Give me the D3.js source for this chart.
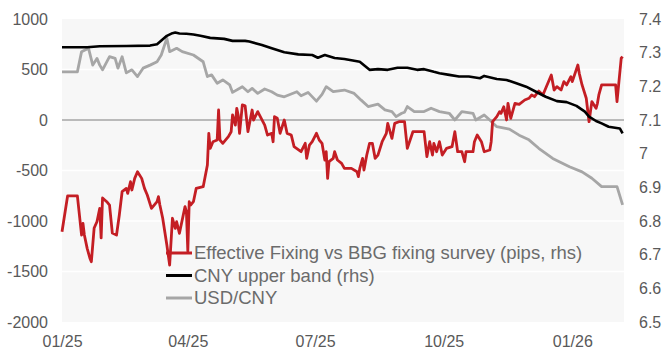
<!DOCTYPE html>
<html>
<head>
<meta charset="utf-8">
<script src="https://cdn.jsdelivr.net/npm/d3@7"></script>
<style>
  html, body { margin: 0; padding: 0; background: #fff; }
  svg { display: block; font-family: "Liberation Sans", Arial, sans-serif; }
</style>
</head>
<body>
<svg id="chart" width="664" height="349"></svg>
<script>
// ---- Data ----------------------------------------------------------------
// Effective fixing vs Bloomberg fixing survey, pips (left scale)
const fixingDates = [
  "2025-01-01","2025-01-05","2025-01-12","2025-01-15","2025-01-16","2025-01-17","2025-01-19","2025-01-21","2025-01-22","2025-01-24",
  "2025-01-26","2025-01-28","2025-01-29","2025-01-30","2025-02-02","2025-02-04","2025-02-06","2025-02-09","2025-02-11","2025-02-13",
  "2025-02-16","2025-02-17","2025-02-19","2025-02-20","2025-02-22","2025-02-24","2025-02-27","2025-03-01","2025-03-03","2025-03-06",
  "2025-03-10","2025-03-11","2025-03-12","2025-03-14","2025-03-17","2025-03-19","2025-03-21","2025-03-23","2025-03-24","2025-03-26",
  "2025-03-30","2025-03-31","2025-04-01","2025-04-02","2025-04-03","2025-04-05","2025-04-07","2025-04-12","2025-04-15","2025-04-16",
  "2025-04-17","2025-04-19","2025-04-22","2025-04-23","2025-04-24","2025-04-26","2025-04-30","2025-05-02","2025-05-03","2025-05-05",
  "2025-05-06","2025-05-07","2025-05-08","2025-05-10","2025-05-12","2025-05-14","2025-05-17","2025-05-18","2025-05-21","2025-05-26",
  "2025-05-28","2025-05-31","2025-06-01","2025-06-02","2025-06-04","2025-06-06","2025-06-09","2025-06-11","2025-06-14","2025-06-16",
  "2025-06-21","2025-06-24","2025-06-25","2025-06-27","2025-06-29","2025-07-02","2025-07-04","2025-07-06","2025-07-08","2025-07-09",
  "2025-07-10","2025-07-11","2025-07-14","2025-07-15","2025-07-17","2025-07-20","2025-07-22","2025-07-27","2025-07-31","2025-08-01",
  "2025-08-02","2025-08-04","2025-08-05","2025-08-07","2025-08-09","2025-08-11","2025-08-13","2025-08-15","2025-08-18","2025-08-21",
  "2025-08-22","2025-08-25","2025-08-27","2025-08-30","2025-09-03","2025-09-05","2025-09-09","2025-09-17","2025-09-19","2025-09-21",
  "2025-09-23","2025-09-24","2025-09-26","2025-09-28","2025-09-30","2025-10-03","2025-10-07","2025-10-09","2025-10-11","2025-10-14",
  "2025-10-16","2025-10-17","2025-10-22","2025-10-23","2025-10-25","2025-10-28","2025-10-30","2025-11-03","2025-11-04","2025-11-05",
  "2025-11-08","2025-11-10","2025-11-11","2025-11-13","2025-11-15","2025-11-16","2025-11-18","2025-11-21","2025-11-24","2025-11-28",
  "2025-12-01","2025-12-03","2025-12-05","2025-12-08","2025-12-11","2025-12-13","2025-12-17","2025-12-19","2025-12-21","2025-12-24",
  "2025-12-26","2025-12-28","2025-12-31","2026-01-01","2026-01-05","2026-01-06","2026-01-08","2026-01-11","2026-01-13","2026-01-15",
  "2026-01-18","2026-01-19","2026-01-20","2026-01-22","2026-02-01","2026-02-02","2026-02-05","2026-02-06"
];
const fixingPips = [
  -1106, -752, -752,-1139,-1023,-1139,-1271,-1370,-1403,-1069,
  -1007, -875,-1168, -772, -809, -842,-1119,-1139, -941, -710,
   -677, -726, -611, -693, -578, -512, -578, -677, -743, -875,
   -809, -759, -842, -970,-1238,-1436, -973,-1073,-1007,-1122,
   -858, -908,-1300, -809, -842, -809, -677, -660, -446, -132,
   -281, -215, -198,   99, -198, -231, -165, -116,   50,  -50,
    116,   50, -132,  149,  140, -116,   99,    0,   83,  -50,
   -149, -132, -215,   33,   17, -132,    0, -132, -149, -264,
   -314, -231, -380, -248, -215, -132, -198, -231, -396, -314,
   -578, -413, -380, -314, -396, -429, -479, -479, -512, -561,
   -479, -380, -495, -347, -231, -231, -380, -347, -215, -132,
    -33, -182,  -33,  -17,  -17, -281, -116, -116, -363, -215,
   -347, -231, -314, -215, -347, -281, -264, -116, -314, -314,
   -413, -314, -314, -215, -149, -215, -314, -297, -215,  -17,
     33,   83,   66,  132,    0,  165,   17,  165,  155,  198,
    215,  248,  231,  287,  248,  314,  446,  297,  330,  297,
    380,  347,  429,  380,  545,  462,  347,  215,  -17,  182,
    116,  165,  248,  347,  347,  182,  611,  627
];

// CNY upper band (right scale)
const bandDates = [
  "2025-01-01","2025-01-19","2025-01-28","2025-02-16","2025-03-05","2025-03-10","2025-03-17","2025-03-21","2025-03-23","2025-03-26",
  "2025-03-31","2025-04-05","2025-04-10","2025-04-17","2025-04-27","2025-05-03","2025-05-12","2025-05-15","2025-05-24","2025-05-31",
  "2025-06-09","2025-06-19","2025-06-29","2025-07-03","2025-07-08","2025-07-15","2025-07-22","2025-08-02","2025-08-09","2025-08-15",
  "2025-08-22","2025-08-29","2025-09-05","2025-09-12","2025-09-17","2025-09-24","2025-09-28","2025-10-05","2025-10-12","2025-10-19",
  "2025-10-27","2025-10-30","2025-11-08","2025-11-15","2025-11-22","2025-11-29","2025-12-06","2025-12-13","2025-12-21","2025-12-28",
  "2026-01-04","2026-01-10","2026-01-13","2026-01-18","2026-01-22","2026-01-27","2026-02-04","2026-02-06"
];
const bandValues = [
  7.316, 7.316, 7.319, 7.320, 7.321, 7.325, 7.350, 7.358, 7.360, 7.357,
  7.356, 7.354, 7.350, 7.344, 7.341, 7.335, 7.335, 7.333, 7.323, 7.313,
  7.301, 7.295, 7.293, 7.285, 7.293, 7.284, 7.281, 7.273, 7.249, 7.251,
  7.249, 7.255, 7.255, 7.249, 7.251, 7.243, 7.239, 7.234, 7.229, 7.229,
  7.224, 7.231, 7.222, 7.219, 7.209, 7.199, 7.184, 7.169, 7.156, 7.153,
  7.142, 7.125, 7.110, 7.097, 7.090, 7.080, 7.075, 7.060
];

// USD/CNY spot (right scale)
const spotDates = [
  "2025-01-01","2025-01-12","2025-01-15","2025-01-20","2025-01-23","2025-01-26","2025-01-28","2025-01-30","2025-02-04","2025-02-08",
  "2025-02-10","2025-02-13","2025-02-16","2025-02-20","2025-02-24","2025-02-28","2025-03-05","2025-03-10","2025-03-13","2025-03-17",
  "2025-03-19","2025-03-24","2025-03-28","2025-04-05","2025-04-12","2025-04-15","2025-04-18","2025-04-22","2025-04-26","2025-05-01",
  "2025-05-03","2025-05-10","2025-05-14","2025-05-17","2025-05-21","2025-05-26","2025-05-31","2025-06-04","2025-06-09","2025-06-18",
  "2025-06-21","2025-06-26","2025-07-02","2025-07-06","2025-07-09","2025-07-14","2025-07-22","2025-07-29","2025-08-03","2025-08-08",
  "2025-08-15","2025-08-20","2025-08-25","2025-08-28","2025-09-01","2025-09-03","2025-09-05","2025-09-10","2025-09-17","2025-09-22",
  "2025-09-28","2025-10-05","2025-10-09","2025-10-14","2025-10-22","2025-10-24","2025-10-30","2025-11-03","2025-11-08","2025-11-17",
  "2025-11-24","2025-12-01","2025-12-08","2025-12-18","2025-12-30","2026-01-08","2026-01-15","2026-01-22","2026-02-02","2026-02-06"
];
const spotValues = [
  7.243, 7.243, 7.303, 7.313, 7.263, 7.283, 7.263, 7.249, 7.288, 7.283,
  7.254, 7.288, 7.240, 7.249, 7.229, 7.254, 7.263, 7.273, 7.293, 7.343,
  7.303, 7.313, 7.303, 7.293, 7.273, 7.229, 7.234, 7.209, 7.219, 7.204,
  7.182, 7.199, 7.184, 7.194, 7.179, 7.192, 7.184, 7.174, 7.169, 7.184,
  7.172, 7.182, 7.156, 7.176, 7.199, 7.184, 7.189, 7.179, 7.159, 7.140,
  7.147, 7.130, 7.125, 7.110, 7.120, 7.123, 7.140, 7.125, 7.125, 7.135,
  7.125, 7.120, 7.100, 7.125, 7.120, 7.100, 7.115, 7.100, 7.080, 7.073,
  7.055, 7.041, 7.016, 6.986, 6.961, 6.946, 6.927, 6.902, 6.902, 6.848
];

const leftTicks  = [1000, 500, 0, -500, -1000, -1500, -2000];
const rightTicks = [7.4, 7.3, 7.2, 7.1, 7.0, 6.9, 6.8, 6.7, 6.6, 6.5];
const xTickDates = ["2025-01-01", "2025-04-01", "2025-07-01", "2025-10-01", "2026-01-01"];
const xDomain    = ["2025-01-01", "2026-02-07"];

const seriesNames  = ["Effective Fixing vs BBG fixing survey (pips, rhs)", "CNY upper band (rhs)", "USD/CNY"];
const seriesColors = ["#c41e24", "#000000", "#a6a6a6"];

// ---- Layout ----------------------------------------------------------------
const W = 664, H = 349;
const margin = { top: 19, right: 40, bottom: 27, left: 62 };
const plotW = W - margin.left - margin.right;
const plotH = H - margin.top - margin.bottom;

const parse = d3.timeParse("%Y-%m-%d");
const zipSeries = (dates, vals) => d3.zip(dates, vals).map(([d, v]) => ({ date: parse(d), value: v }));

const fixing = zipSeries(fixingDates, fixingPips);
const band   = zipSeries(bandDates, bandValues);
const spot   = zipSeries(spotDates, spotValues);

const x = d3.scaleTime().domain(xDomain.map(parse)).range([0, plotW]);
const yL = d3.scaleLinear().domain([-2000, 1000]).range([plotH, 0]);
const yR = d3.scaleLinear().domain([6.5, 7.4]).range([plotH, 0]);

const svg = d3.select("#chart");
const g = svg.append("g").attr("transform", `translate(${margin.left},${margin.top})`);

// plot background
g.append("rect").attr("width", plotW).attr("height", plotH).attr("fill", "#f7f7f7");

// horizontal gridlines (white) on the left scale
g.append("g").selectAll("line")
  .data(leftTicks.filter(t => t !== 0 && t !== 1000 && t !== -2000))
  .join("line")
  .attr("x1", 0).attr("x2", plotW)
  .attr("y1", d => yL(d)).attr("y2", d => yL(d))
  .attr("stroke", "#ffffff").attr("stroke-width", 1.4);

// zero line
g.append("line")
  .attr("x1", 0).attr("x2", plotW)
  .attr("y1", yL(0)).attr("y2", yL(0))
  .attr("stroke", "#7f7f7f").attr("stroke-width", 1.2);

// series lines
const lineL = d3.line().x(d => x(d.date)).y(d => yL(d.value));
const lineR = d3.line().x(d => x(d.date)).y(d => yR(d.value));

g.append("path").datum(spot).attr("d", lineR)
  .attr("fill", "none").attr("stroke", seriesColors[2]).attr("stroke-width", 2.8)
  .attr("stroke-linejoin", "round");
g.append("path").datum(fixing).attr("d", lineL)
  .attr("fill", "none").attr("stroke", seriesColors[0]).attr("stroke-width", 2.8)
  .attr("stroke-linejoin", "round");
g.append("path").datum(band).attr("d", lineR)
  .attr("fill", "none").attr("stroke", seriesColors[1]).attr("stroke-width", 2.6)
  .attr("stroke-linejoin", "round");

// left axis
const axL = g.append("g").call(d3.axisLeft(yL).tickValues(leftTicks).tickSize(0).tickPadding(14).tickFormat(d => String(d)));
axL.select(".domain").remove();
axL.selectAll("text").attr("font-size", 16).attr("fill", "#595959")
  .attr("font-family", "Liberation Sans, Arial, sans-serif");

// right axis
const axR = g.append("g").attr("transform", `translate(${plotW},0)`)
  .call(d3.axisRight(yR).tickValues(rightTicks).tickSize(0).tickPadding(15).tickFormat(d => String(+d.toFixed(1))));
axR.select(".domain").remove();
axR.selectAll("text").attr("font-size", 16).attr("fill", "#595959")
  .attr("font-family", "Liberation Sans, Arial, sans-serif");

// bottom axis
const axB = g.append("g").attr("transform", `translate(0,${plotH})`)
  .call(d3.axisBottom(x).tickValues(xTickDates.map(parse)).tickSize(0).tickPadding(14).tickFormat(d3.timeFormat("%m/%y")));
axB.select(".domain").remove();
axB.selectAll("text").attr("font-size", 16).attr("fill", "#595959")
  .attr("font-family", "Liberation Sans, Arial, sans-serif");

// legend
const legend = g.append("g").attr("transform", `translate(${104},${234})`);
const rows = legend.selectAll("g").data(seriesNames).join("g")
  .attr("transform", (d, i) => `translate(0,${i * 22.5})`);
rows.append("line")
  .attr("x1", 0).attr("x2", 26).attr("y1", 0).attr("y2", 0)
  .attr("stroke", (d, i) => seriesColors[i]).attr("stroke-width", 3);
rows.append("text")
  .attr("x", 28).attr("y", 0).attr("dy", "0.35em")
  .attr("font-size", 18.5).attr("fill", "#6b6b6b")
  .text(d => d);
</script>
</body>
</html>
